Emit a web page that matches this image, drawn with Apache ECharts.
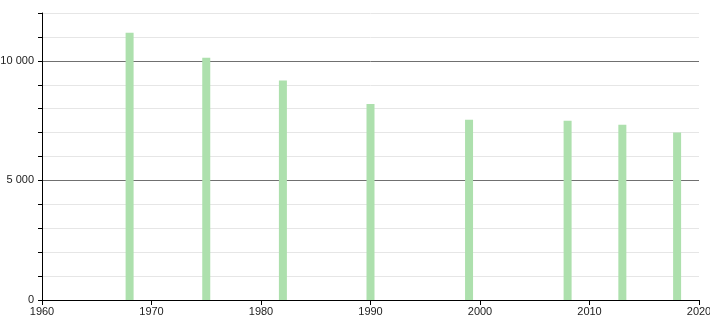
<!DOCTYPE html>
<html>
<head>
<meta charset="utf-8">
<script src="https://cdn.jsdelivr.net/npm/echarts@6/dist/echarts.min.js"></script>
<style>
html,body{margin:0;padding:0;background:#fff;}
#chart{width:710px;height:320px;}
</style>
</head>
<body>
<div id="chart"></div>
<script>
var years = [1968, 1975, 1982, 1990, 1999, 2008, 2013, 2018];
var population = [11170, 10130, 9180, 8200, 7540, 7490, 7330, 7000];

var chart = echarts.init(document.getElementById('chart'), null, {renderer: 'canvas'});
var data = years.map(function (y, i) { return [y, population[i]]; });

function fmt(v) {
  return String(v).replace(/\B(?=(\d{3})+(?!\d))/g, ' ');
}

chart.setOption({
  animation: false,
  grid: {left: 42, right: 11, top: 13, bottom: 20, containLabel: false, outerBoundsMode: 'none'},
  xAxis: {
    type: 'value', min: 1960, max: 2020, interval: 10,
    axisLine: {show: true, onZero: false, lineStyle: {color: '#000', width: 1}},
    axisTick: {show: true, length: 5, lineStyle: {color: '#000'}},
    axisLabel: {color: '#222', fontFamily: 'Liberation Sans', fontSize: 11, margin: 6,
      hideOverlap: false,
      formatter: function (v) { return String(v); }},
    splitLine: {show: false}
  },
  yAxis: {
    type: 'value', min: 0, max: 12000, interval: 1000,
    axisLine: {show: true, lineStyle: {color: '#000', width: 1}},
    axisTick: {show: true, length: 4, lineStyle: {color: '#000'}},
    axisLabel: {color: '#222', fontFamily: 'Liberation Sans', fontSize: 11, margin: 8,
      formatter: function (v) { return v % 5000 === 0 ? fmt(v) : ''; }},
    splitLine: {show: true, lineStyle: {width: 1,
      color: ['#707070', '#e6e6e6', '#e6e6e6', '#e6e6e6', '#e6e6e6']}}
  },
  series: [{
    type: 'bar',
    data: data,
    barWidth: 8,
    itemStyle: {color: '#ade0ad'}
  }]
});
</script>
</body>
</html>
